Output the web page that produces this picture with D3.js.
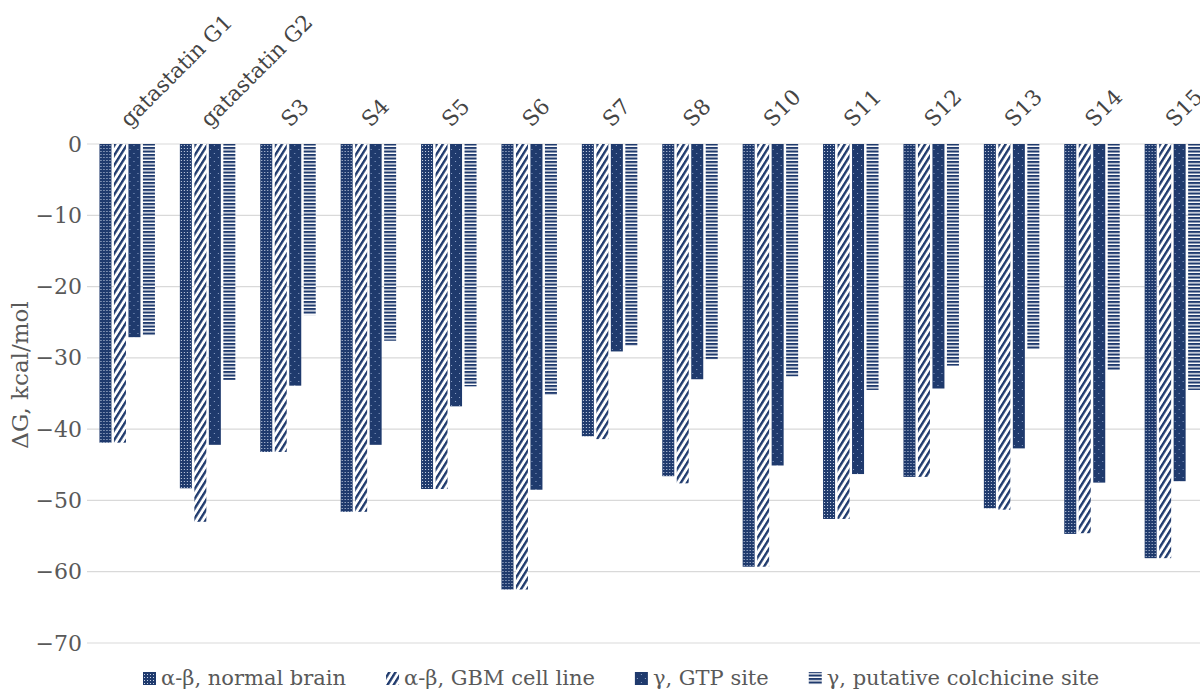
<!DOCTYPE html>
<html>
<head>
<meta charset="utf-8">
<script src="https://cdn.jsdelivr.net/npm/d3@7/dist/d3.min.js"></script>
<style>
  html, body { margin: 0; padding: 0; background: #fff; }
  svg { display: block; }
  text { font-family: "DejaVu Serif", "Liberation Serif", serif; }
</style>
</head>
<body>
<svg id="chart" width="1200" height="695"></svg>
<script>
// Binding free energies (kcal/mol) per compound and site
const compounds = ["gatastatin G1", "gatastatin G2", "S3", "S4", "S5", "S6", "S7", "S8",
                   "S10", "S11", "S12", "S13", "S14", "S15"];
const seriesNames = ["α-β, normal brain", "α-β, GBM cell line", "γ, GTP site", "γ, putative colchicine site"];
const normalBrain  = [-41.9, -48.3, -43.2, -51.6, -48.4, -62.5, -41.0, -46.6, -59.3, -52.6, -46.7, -51.1, -54.7, -58.1];
const gbmCellLine  = [-41.9, -53.0, -43.2, -51.6, -48.4, -62.5, -41.4, -47.6, -59.3, -52.6, -46.7, -51.3, -54.6, -58.1];
const gtpSite      = [-27.1, -42.2, -33.9, -42.2, -36.8, -48.5, -29.1, -33.0, -45.1, -46.3, -34.3, -42.7, -47.5, -47.3];
const colchicineSite = [-26.9, -33.1, -24.0, -27.6, -34.0, -35.2, -28.3, -30.2, -32.6, -34.5, -31.1, -28.8, -31.7, -34.5];
const yTicks = [0, -10, -20, -30, -40, -50, -60, -70];

const seriesValues = [normalBrain, gbmCellLine, gtpSite, colchicineSite];
const navy = "#1f3a6d";
const grid = "#d9d9d9";
const textGray = "#595959";

const svg = d3.select("#chart");
const defs = svg.append("defs");

// Fill patterns, one per series
const p0 = defs.append("pattern").attr("id", "pat0").attr("patternUnits", "userSpaceOnUse")
  .attr("width", 3).attr("height", 3);
p0.append("rect").attr("width", 3).attr("height", 3).attr("fill", navy);
p0.append("rect").attr("x", 1).attr("y", 1).attr("width", 1).attr("height", 1).attr("fill", "#c9d3e6");

const p1 = defs.append("pattern").attr("id", "pat1").attr("patternUnits", "userSpaceOnUse")
  .attr("width", 5.2).attr("height", 10).attr("patternTransform", "rotate(32)");
p1.append("rect").attr("width", 5.2).attr("height", 10).attr("fill", "#fff");
p1.append("rect").attr("width", 2.4).attr("height", 10).attr("fill", navy);

const p2 = defs.append("pattern").attr("id", "pat2").attr("patternUnits", "userSpaceOnUse")
  .attr("width", 8).attr("height", 8);
p2.append("rect").attr("width", 8).attr("height", 8).attr("fill", navy);
p2.append("rect").attr("x", 2).attr("y", 1).attr("width", 1).attr("height", 1).attr("fill", "#8fa3c8");
p2.append("rect").attr("x", 6).attr("y", 5).attr("width", 1).attr("height", 1).attr("fill", "#8fa3c8");

const p3 = defs.append("pattern").attr("id", "pat3").attr("patternUnits", "userSpaceOnUse")
  .attr("width", 4).attr("height", 3.5);
p3.append("rect").attr("width", 4).attr("height", 3.5).attr("fill", "#fff");
p3.append("rect").attr("width", 4).attr("height", 2.1).attr("fill", navy);

const fills = ["url(#pat0)", "url(#pat1)", "url(#pat2)", "url(#pat3)"];

// Scales
const plotLeft = 87;
const step = 80.4;
const x0 = d3.scaleBand().domain(compounds)
  .range([plotLeft, plotLeft + step * compounds.length])
  .paddingInner(0.31).paddingOuter(0.155);
const x1 = d3.scaleBand().domain(d3.range(seriesNames.length))
  .range([0, x0.bandwidth()]).paddingInner(0.172);
const y = d3.scaleLinear().domain([-70, 0]).range([643, 144]);

// Gridlines
svg.append("g").selectAll("line").data(yTicks).join("line")
  .attr("x1", plotLeft).attr("x2", 1200)
  .attr("y1", d => y(d)).attr("y2", d => y(d))
  .attr("stroke", grid).attr("stroke-width", 1.2);

// Y axis tick labels
const yAxis = d3.axisLeft(y).tickValues(yTicks).tickSize(0).tickPadding(0);
const yg = svg.append("g").attr("transform", "translate(82,0)").call(yAxis);
yg.select(".domain").remove();
yg.selectAll("text").attr("font-size", 22).attr("fill", textGray)
  .attr("font-family", "Liberation Serif, serif");

// Y axis title
svg.append("text")
  .attr("transform", "translate(28,375) rotate(-90)")
  .attr("text-anchor", "middle")
  .attr("font-size", 23).attr("fill", textGray)
  .text("ΔG, kcal/mol");

// Bars
const groups = svg.append("g").selectAll("g").data(compounds).join("g")
  .attr("transform", d => `translate(${x0(d)},0)`);
groups.selectAll("rect")
  .data((d, i) => seriesValues.map((vals, s) => ({ s, v: vals[i] })))
  .join("rect")
  .attr("x", d => x1(d.s))
  .attr("width", x1.bandwidth())
  .attr("y", y(0))
  .attr("height", d => y(d.v) - y(0))
  .attr("fill", d => fills[d.s]);

// Category labels, rotated above the zero line
svg.append("g").selectAll("text").data(compounds).join("text")
  .attr("transform", d => `translate(${x0(d) + x0.bandwidth() / 2 + 2},128) rotate(-45)`)
  .attr("font-size", 21.5).attr("fill", "#444")
  .attr("text-anchor", "start")
  .text(d => d);

// Legend
const legend = svg.append("g").attr("transform", "translate(143,685)");
let lx = 0;
seriesNames.forEach((name, i) => {
  const item = legend.append("g").attr("transform", `translate(${lx},0)`);
  item.append("rect").attr("x", 0).attr("y", -13).attr("width", 13).attr("height", 13)
    .attr("fill", fills[i]);
  const t = item.append("text").attr("x", 18).attr("y", 0)
    .attr("font-size", 21).attr("fill", textGray).text(name);
  lx += 18 + t.node().getComputedTextLength() + 40;
});
</script>
</body>
</html>
